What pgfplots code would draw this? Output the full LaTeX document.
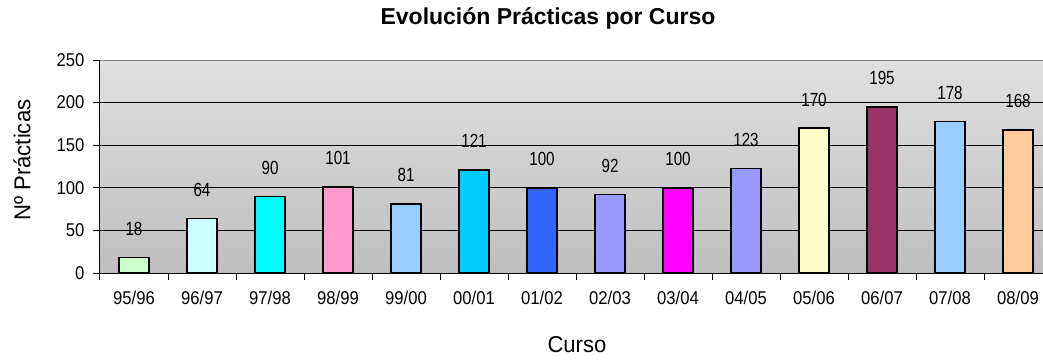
\documentclass[border=0pt]{standalone}
\usepackage{fontspec}
\setmainfont{Liberation Sans}
\newfontfamily\narrowfont{Liberation Sans}[FakeStretch=0.8]
\newfontfamily\tickfont{Liberation Sans}[FakeStretch=0.9]
\newfontfamily\labfont{Liberation Sans}[FakeStretch=0.96]
\usepackage{pgfplots}
\pgfplotsset{compat=1.18}
\pgfplotsset{/pgf/number format/assume math mode=true}
\definecolor{bgtop}{RGB}{224,224,224}
\definecolor{bgbot}{RGB}{190,190,190}
\definecolor{c1}{HTML}{CCFFCC}
\definecolor{c2}{HTML}{CCFFFF}
\definecolor{c3}{HTML}{00FFFF}
\definecolor{c4}{HTML}{FF99CC}
\definecolor{c5}{HTML}{99CCFF}
\definecolor{c6}{HTML}{00CCFF}
\definecolor{c7}{HTML}{3366FF}
\definecolor{c8}{HTML}{9999FF}
\definecolor{c9}{HTML}{FF00FF}
\definecolor{c10}{HTML}{9999FF}
\definecolor{c11}{HTML}{FFFFCC}
\definecolor{c12}{HTML}{993366}
\definecolor{c13}{HTML}{99CCFF}
\definecolor{c14}{HTML}{FFCC99}
\begin{document}
\begin{tikzpicture}[x=1pt,y=1pt]
\useasboundingbox (0,0) rectangle (1043,359);
\begin{axis}[
  at={(100pt,86pt)}, anchor=south west,
  scale only axis, width=952pt, height=213pt,
  xmin=-0.5, xmax=13.5, ymin=0, ymax=250,
  axis background/.style={top color=bgtop, bottom color=bgbot},
  axis x line*=bottom, axis y line*=left,
  axis line style={black, line width=1pt},
  ybar,
  xtick={0,...,13},
  xticklabels={95/96,96/97,97/98,98/99,99/00,00/01,01/02,02/03,03/04,04/05,05/06,06/07,07/08,08/09},
  major x tick style={draw=none},
  minor xtick={-0.5,0.5,...,13.5},
  minor tick length=7pt,
  major tick length=7pt,
  tick align=outside,
  tick style={black, line width=1pt},
  ytick={0,50,...,250},
  ymajorgrids,
  grid style={black, line width=0.8pt},
  x tick label style={font=\tickfont\fontsize{18.5}{18.5}\selectfont, yshift=-8pt},
  y tick label style={font=\tickfont\fontsize{18.5}{18.5}\selectfont, xshift=-5pt},
  nodes near coords,
  every node near coord/.append style={font=\narrowfont\fontsize{19}{19}\selectfont, anchor=base, inner sep=0pt, yshift=22pt, black},
  title={\bfseries Evolución Prácticas por Curso},
  title style={font=\fontsize{23}{23}\selectfont, at={(axis description cs:0.4706,1)}, anchor=base, yshift=30pt},
  xlabel={Curso},
  xlabel style={font=\labfont\fontsize{23}{23}\selectfont, at={(axis description cs:0.501,-0.338)}, anchor=center},
  ylabel={Nº Prácticas},
  ylabel style={font=\labfont\fontsize{23}{23}\selectfont, at={(axis description cs:-0.082,0.53)}, anchor=center, rotate=0},
]
\addplot[fill=c1, draw=black, line width=1.4pt, bar width=30pt, bar shift=0pt] coordinates {(0,18)};
\addplot[fill=c2, draw=black, line width=1.4pt, bar width=30pt, bar shift=0pt] coordinates {(1,64)};
\addplot[fill=c3, draw=black, line width=1.4pt, bar width=30pt, bar shift=0pt] coordinates {(2,90)};
\addplot[fill=c4, draw=black, line width=1.4pt, bar width=30pt, bar shift=0pt] coordinates {(3,101)};
\addplot[fill=c5, draw=black, line width=1.4pt, bar width=30pt, bar shift=0pt] coordinates {(4,81)};
\addplot[fill=c6, draw=black, line width=1.4pt, bar width=30pt, bar shift=0pt] coordinates {(5,121)};
\addplot[fill=c7, draw=black, line width=1.4pt, bar width=30pt, bar shift=0pt] coordinates {(6,100)};
\addplot[fill=c8, draw=black, line width=1.4pt, bar width=30pt, bar shift=0pt] coordinates {(7,92)};
\addplot[fill=c9, draw=black, line width=1.4pt, bar width=30pt, bar shift=0pt] coordinates {(8,100)};
\addplot[fill=c10, draw=black, line width=1.4pt, bar width=30pt, bar shift=0pt] coordinates {(9,123)};
\addplot[fill=c11, draw=black, line width=1.4pt, bar width=30pt, bar shift=0pt] coordinates {(10,170)};
\addplot[fill=c12, draw=black, line width=1.4pt, bar width=30pt, bar shift=0pt] coordinates {(11,195)};
\addplot[fill=c13, draw=black, line width=1.4pt, bar width=30pt, bar shift=0pt] coordinates {(12,178)};
\addplot[fill=c14, draw=black, line width=1.4pt, bar width=30pt, bar shift=0pt] coordinates {(13,168)};
\draw[gray, line width=1.2pt] (rel axis cs:0,1) -- (rel axis cs:1,1);
\end{axis}
\end{tikzpicture}
\end{document}
